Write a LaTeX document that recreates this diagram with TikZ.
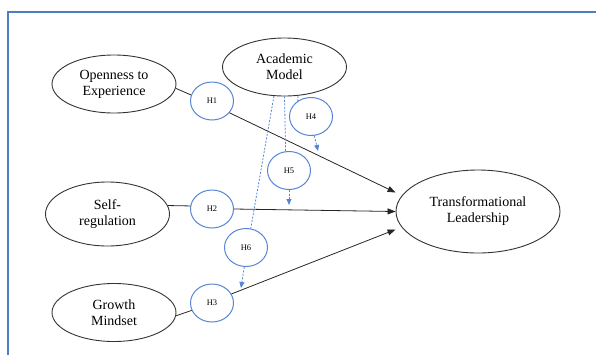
\documentclass[tikz,border=0pt]{standalone}
\usepackage{fontspec}
\setmainfont{Liberation Serif}
\newfontfamily\tnr{Liberation Serif}
\usetikzlibrary{shapes.geometric,arrows.meta}
\definecolor{framebl}{RGB}{74,126,193}
\definecolor{hypbl}{RGB}{86,133,214}

\begin{document}
\begin{tikzpicture}[x=1pt,y=-1pt,line width=0.8,
		var/.style={ellipse,draw=black!80,line width=0.9,inner sep=0,minimum width=124,minimum height=58,align=center,font=\tnr\fontsize{14}{16}\selectfont},
		hyp/.style={ellipse,draw=hypbl,line width=1,inner sep=0,minimum width=43,minimum height=38,font=\tnr\fontsize{8.5}{10}\selectfont},
		arr/.style={-{Triangle[length=8pt,width=6pt]},black!85},
		mod/.style={hypbl,dash pattern=on 2pt off 1.5pt,line width=0.8}]
			\useasboundingbox (0,0) rectangle (596,354);
			\begin{scope}
				\clip (0,0) rectangle (596,354);
				\draw[framebl,line width=2] (8,380) -- (8,12) -- (620,12);
			\end{scope}
			\node[var] (open) at (114,84) {Openness to\\Experience};
			\node[var] (acad) at (284.5,67) {Academic\\Model};
			\node[var,minimum height=64] (selfreg) at (107.5,214) {Self-\\regulation};
			\node[var] (growth) at (114,312.5) {Growth\\Mindset};
			\node[var,minimum width=164,minimum height=83] (transf) at (478,211.5) {Transformational\\Leadership};
			\node[hyp] (h1) at (212,101) {H1};
			\node[hyp] (h2) at (212,209) {H2};
			\node[hyp] (h3) at (212,303) {H3};
			\node[hyp] (h4) at (311,116.5) {H4};
			\node[hyp] (h5) at (289,170.5) {H5};
			\node[hyp] (h6) at (246,247.5) {H6};
			\coordinate (t1) at ([yshift=19pt]transf.west);
			\coordinate (t2) at (transf.west);
			\coordinate (t3) at ([yshift=-18pt]transf.west);
			\coordinate (m1) at (318,151);
			\coordinate (m2) at (289,205);
			\coordinate (m3) at (241,288);
			\draw[black!85] (open.-4) -- (h1.164);
			\draw[arr] (h1.-34) -- (t1);
			\draw[black!85] (selfreg.8) -- (h2.172);
			\draw[arr] (h2.east) -- (t2);
			\draw[black!85] (growth.-3) -- (h3.200);
			\draw[arr] (h3.25) -- (t3);
			\draw[mod] (acad.-65) -- (h4.130);
			\draw[mod,-{Triangle[length=6pt,width=5pt]}] (h4.-80) -- (m1);
			\draw[mod] (acad.south) -- (h5.100);
			\draw[mod,-{Triangle[length=6pt,width=5pt]}] (h5.south) -- (m2);
			\draw[mod] (acad.-110) -- (h6.76);
			\draw[mod,-{Triangle[length=6pt,width=5pt]}] (h6.-95) -- (m3);
		\end{tikzpicture}
\end{document}
